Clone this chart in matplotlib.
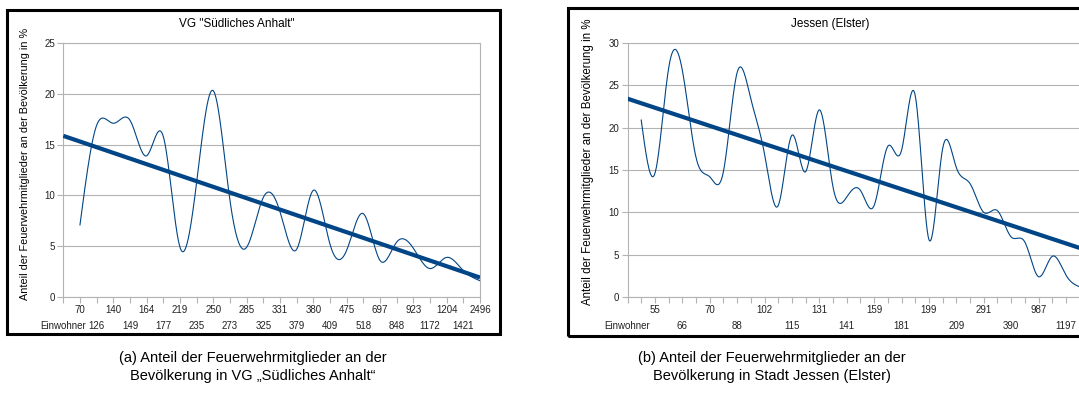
import numpy as np
import matplotlib
matplotlib.use("Agg")
import matplotlib.pyplot as plt
from matplotlib.patches import Rectangle

# chart (a): VG "Südliches Anhalt"
a_einwohner = ["70", "126", "140", "149", "164", "177", "219", "235", "250", "273",
               "285", "325", "331", "379", "380", "409", "475", "518", "697", "848",
               "923", "1172", "1204", "1421", "2496"]
a_anteil = [7.1, 16.9, 17.1, 17.4, 13.9, 15.8, 4.9, 11.3, 20.3, 9.5,
            4.9, 9.8, 8.4, 4.7, 10.5, 5.2, 4.6, 8.2, 3.6, 5.4,
            4.8, 2.8, 3.9, 2.6, 1.6]

# chart (b): Jessen (Elster) - only every second category is labelled
b_einwohner = ["55", "66", "70", "88", "102", "115", "131", "141",
               "159", "181", "199", "209", "291", "390", "987", "1197"]
b_anteil = [20.9, 14.6, 27.0, 26.8, 16.5, 14.2, 14.8, 26.5, 23.4, 16.9,
            10.8, 19.1, 14.8, 22.1, 13.0, 11.8, 12.6, 10.8, 17.8, 17.3,
            23.8, 6.8, 17.5, 15.3, 13.4, 10.0, 10.2, 7.1, 6.5, 2.4,
            4.8, 2.6, 1.2]

ylabel = "Anteil der Feuerwehrmitglieder an der Bevölkerung in %"
BLUE = "#004586"
GRID = "#b3b3b3"
W, H = 1079, 412

plt.rcParams['font.family'] = ['Liberation Sans', 'DejaVu Sans']


def spline(x, y, steps=30):
    # natural cubic spline through the points
    n = len(x)
    h = np.diff(x)
    A = np.zeros((n, n))
    r = np.zeros(n)
    A[0, 0] = A[-1, -1] = 1
    for i in range(1, n - 1):
        A[i, i - 1] = h[i - 1]
        A[i, i] = 2 * (h[i - 1] + h[i])
        A[i, i + 1] = h[i]
        r[i] = 3 * ((y[i + 1] - y[i]) / h[i] - (y[i] - y[i - 1]) / h[i - 1])
    c = np.linalg.solve(A, r)
    b = (y[1:] - y[:-1]) / h - h * (2 * c[:-1] + c[1:]) / 3
    d = (c[1:] - c[:-1]) / (3 * h)
    xs = np.linspace(x[0], x[-1], (n - 1) * steps + 1)
    k = np.clip(np.searchsorted(x, xs, side='right') - 1, 0, n - 2)
    dx = xs - x[k]
    return xs, y[k] + b[k] * dx + c[k] * dx ** 2 + d[k] * dx ** 3


def box(x0, y0, x1, y1):
    return [x0 / W, 1 - y1 / H, (x1 - x0) / W, (y1 - y0) / H]


def draw(ax, values, tick_labels, step, xmax, ymax):
    x = np.arange(1, len(values) + 1, dtype=float)
    y = np.array(values, dtype=float)
    sx, sy = spline(x, y)
    ax.plot(sx, sy, color=BLUE, lw=0.8, zorder=3)
    k, m = np.polyfit(x, y, 1)
    tx = np.array([0, xmax], dtype=float)
    ax.plot(tx, k * tx + m, color=BLUE, lw=3, solid_capstyle='butt', zorder=4)

    ax.set_xlim(0, xmax)
    ax.set_ylim(0, ymax)
    ax.set_yticks(range(0, ymax + 1, 5))
    ax.grid(axis='y', color=GRID, lw=0.8)
    ax.set_axisbelow(True)

    # staggered category labels: odd ones on top row (major ticks),
    # even ones incl. "Einwohner" at position 0 on the lower row (minor ticks)
    top_pos, top_lab, low_pos, low_lab = [], [], [], []
    for j, lab in enumerate(["Einwohner"] + tick_labels):
        if j % 2:
            top_pos.append(j * step)
            top_lab.append(lab)
        else:
            low_pos.append(j * step)
            low_lab.append(lab)
    rest = [p for p in range(xmax + 1) if p not in top_pos]
    ax.set_xticks(top_pos)
    ax.set_xticklabels(top_lab)
    ax.set_xticks(rest, minor=True)
    ax.set_xticklabels([low_lab[low_pos.index(p)] if p in low_pos else ''
                        for p in rest], minor=True)

    for s in ax.spines.values():
        s.set_color(GRID)
        s.set_linewidth(0.8)
    ax.tick_params(axis='both', which='both', length=4, width=0.8, color=GRID,
                   labelsize=7, labelcolor='#222222', pad=2)
    ax.tick_params(axis='x', which='minor', pad=13)
    ax.tick_params(axis='y', which='minor', left=False)


fig = plt.figure(figsize=(W / 100, H / 100), dpi=100)

ax1 = fig.add_axes(box(63.3, 43, 480, 297))
draw(ax1, a_anteil, a_einwohner, 1, 25, 25)

ax2 = fig.add_axes(box(627.5, 43, 627.5 + 13.7 * 35, 297))
draw(ax2, b_anteil, b_einwohner, 2, 35, 30)

fig.text(237 / W, 1 - 24 / H, 'VG "Südliches Anhalt"', fontsize=8.5,
         ha='center', va='center')
fig.text(830 / W, 1 - 24 / H, "Jessen (Elster)", fontsize=8.5,
         ha='center', va='center')
fig.text(25.5 / W, 1 - 164 / H, ylabel, fontsize=7.8, rotation=90,
         ha='center', va='center')
fig.text(587.5 / W, 1 - 162 / H, ylabel, fontsize=8.3, rotation=90,
         ha='center', va='center')

# black frames around the two charts
fig.add_artist(Rectangle((7 / W, 1 - 334 / H), 493 / W, 324 / H,
                         transform=fig.transFigure, fill=False, lw=2.2, ec='black'))
fig.add_artist(Rectangle((568 / W, 1 - 336 / H), 540 / W, 328 / H,
                         transform=fig.transFigure, fill=False, lw=2.2, ec='black'))

fig.text(253 / W, 1 - 367 / H,
         "(a) Anteil der Feuerwehrmitglieder an der\nBevölkerung in VG „Südliches Anhalt“",
         fontsize=10.5, ha='center', va='center', linespacing=1.35)
fig.text(772 / W, 1 - 367 / H,
         "(b) Anteil der Feuerwehrmitglieder an der\nBevölkerung in Stadt Jessen (Elster)",
         fontsize=10.5, ha='center', va='center', linespacing=1.35)

fig.savefig("out.png", dpi=100)
